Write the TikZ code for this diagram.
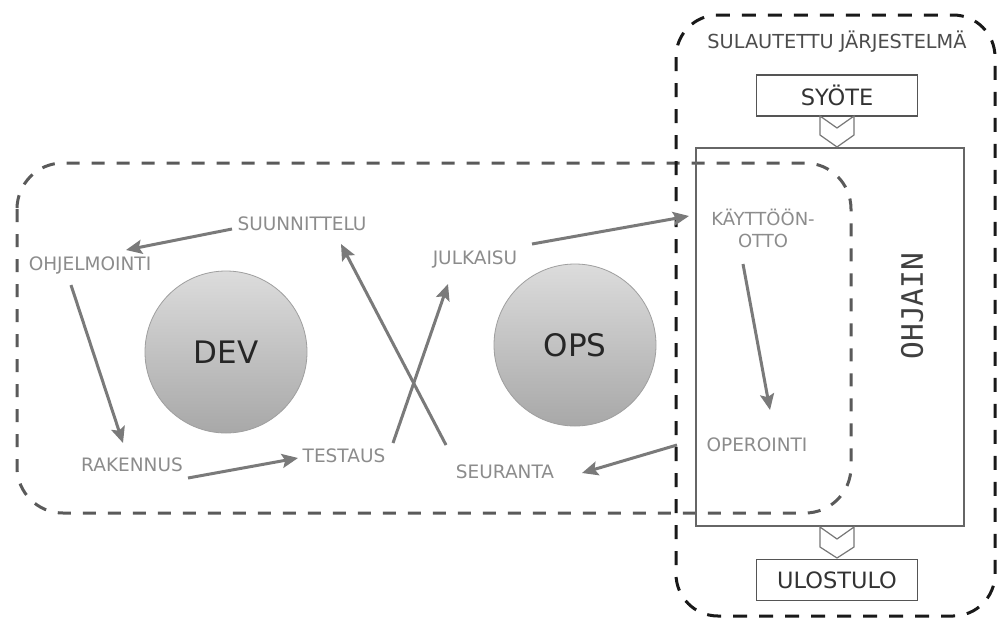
\documentclass[tikz,border=0pt]{standalone}
\usepackage{fontspec}
\setmainfont{DejaVu Sans}
\newfontfamily\monof{DejaVu Sans Mono}
\usetikzlibrary{arrows.meta}
\definecolor{lblgray}{HTML}{8C8C8C}
\definecolor{arrgray}{HTML}{7A7A7A}
\definecolor{dashgray}{HTML}{5A5A5A}
\definecolor{boxline}{HTML}{555555}
\definecolor{circtop}{HTML}{DCDCDC}
\definecolor{circbot}{HTML}{A8A8A8}
\begin{document}
\begin{tikzpicture}[x=1pt,y=-1pt,
  lbl/.style={text=lblgray,font=\fontsize{18.5pt}{21pt}\selectfont,inner sep=2pt,align=center},
  arr/.style={draw=arrgray,line width=3pt,-{Stealth[length=16pt,width=14pt,inset=3pt]}},
  ball/.style={circle,minimum size=162pt,draw=gray!75,line width=0.8pt,top color=circtop,bottom color=circbot,text=black!85,font=\fontsize{31pt}{34pt}\selectfont,inner sep=0pt},
  iobox/.style={draw=boxline,line width=1.6pt,fill=white,minimum width=161pt,minimum height=41pt,inner sep=0pt,text=black!80,font=\fontsize{22.5pt}{26pt}\selectfont},
  chev/.style={draw=boxline!80,line width=1.2pt,fill=white},
  outerdash/.style={draw=black!90,line width=3pt,dash pattern=on 14pt off 12pt,rounded corners=42pt},
  innerdash/.style={draw=dashgray,line width=3pt,dash pattern=on 13pt off 12pt,rounded corners=46pt}
]
\useasboundingbox[fill=white] (0,0) rectangle (998,619);

% containers
\draw[innerdash] (17,163) rectangle (851,513);
\draw[outerdash] (676,15) rectangle (995,616);
\draw[draw=boxline!90,line width=1.5pt] (696,148) rectangle (964,526);
\node[text=black!75,font=\monof\fontsize{29.5pt}{32pt}\selectfont,rotate=90] (ohjain) at (912,306) {OHJAIN};
\node[text=black!70,font=\fontsize{19.3pt}{22pt}\selectfont,inner sep=0pt] (sul) at (837,42) {SULAUTETTU JÄRJESTELMÄ};

% input / output
\node[iobox] (syote) at (837,95.5) {SYÖTE};
\node[iobox] (ulos) at (837,580) {ULOSTULO};
\draw[chev] (820,116) -- (837,128) -- (854,116) -- (854,135) -- (837,147) -- (820,135) -- cycle;
\draw[chev] (820,527) -- (837,539) -- (854,527) -- (854,547) -- (837,558) -- (820,547) -- cycle;

% circles
\node[ball] (dev) at (226,352) {DEV};
\node[ball] (ops) at (575,345) {OPS};

% labels
\node[lbl] (suun) at (302,224) {SUUNNITTELU};
\node[lbl] (ohje) at (90,265) {OHJELMOINTI};
\node[lbl] (rak) at (132,465) {RAKENNUS};
\node[lbl] (test) at (344,456) {TESTAUS};
\node[lbl] (seur) at (505,472) {SEURANTA};
\node[lbl] (julk) at (475,259) {JULKAISU};
\node[lbl,font=\fontsize{18pt}{22pt}\selectfont] (kayt) at (763,228) {KÄYTTÖÖN-\\OTTO};
\node[lbl] (oper) at (757,445) {OPEROINTI};

% arrow end points
\coordinate (s1) at (232,229); \coordinate (e1) at (126,250);
\coordinate (s2) at (71,285);  \coordinate (e2) at (123,443);
\coordinate (s3) at (188,478); \coordinate (e3) at (298,458);
\coordinate (s4) at (393,443); \coordinate (e4) at (448,284);
\coordinate (s5) at (446,445); \coordinate (e5) at (341,244);
\coordinate (s6) at (532,244); \coordinate (e6) at (689,216);
\coordinate (s7) at (743,264); \coordinate (e7) at (770,410);
\coordinate (s8) at (677,445); \coordinate (e8) at (582,473);

\draw[arr] (s1) -- (e1);
\draw[arr] (s2) -- (e2);
\draw[arr] (s3) -- (e3);
\draw[arr] (s4) -- (e4);
\draw[arr] (s5) -- (e5);
\draw[arr] (s6) -- (e6);
\draw[arr] (s7) -- (e7);
\draw[arr] (s8) -- (e8);
\end{tikzpicture}
\end{document}
